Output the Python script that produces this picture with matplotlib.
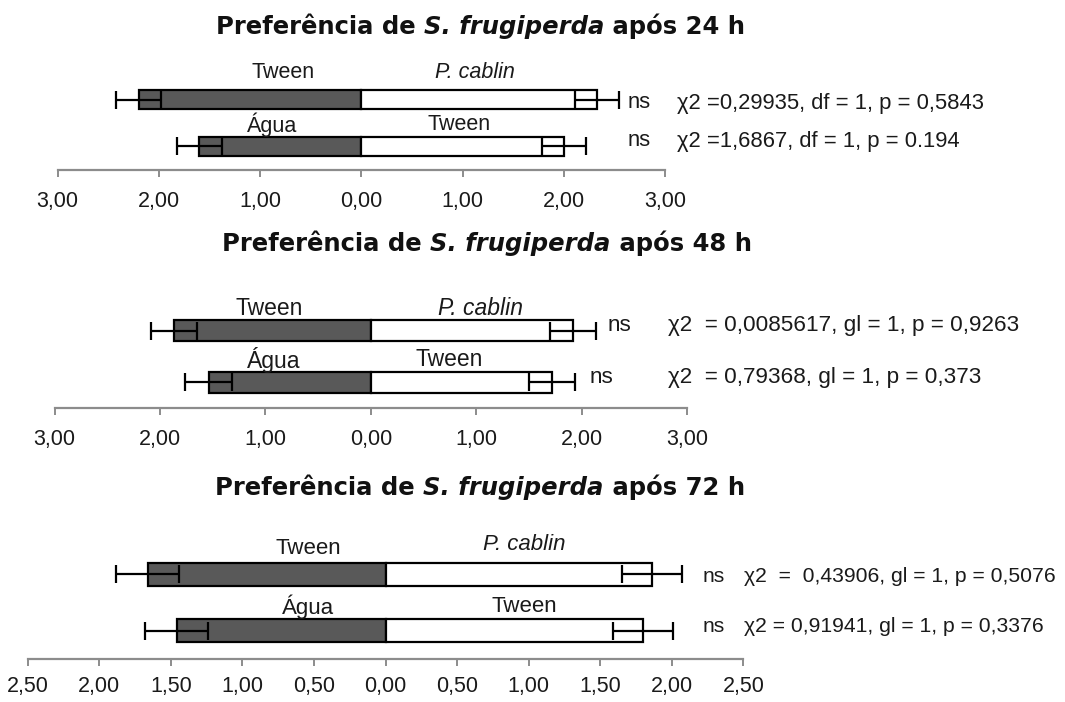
import matplotlib
matplotlib.use("Agg")
import matplotlib.pyplot as plt

# data (mean response, left = dark bar, right = white bar)
left_names = [["Tween", "Água"], ["Tween", "Água"], ["Tween", "Água"]]
right_names = [["P. cablin", "Tween"], ["P. cablin", "Tween"], ["P. cablin", "Tween"]]

left_24 = [2.20, 1.60]
right_24 = [2.33, 2.00]
err_left_24 = [0.22, 0.22]
err_right_24 = [0.22, 0.22]

left_48 = [1.87, 1.54]
right_48 = [1.92, 1.72]
err_left_48 = [0.22, 0.22]
err_right_48 = [0.22, 0.22]

left_72 = [1.66, 1.46]
right_72 = [1.86, 1.80]
err_left_72 = [0.22, 0.22]
err_right_72 = [0.21, 0.21]

hours = ["24", "48", "72"]
chi_24 = ["χ2 =0,29935, df = 1, p = 0,5843", "χ2 =1,6867, df = 1, p = 0.194"]
chi_48 = ["χ2  = 0,0085617, gl = 1, p = 0,9263", "χ2  = 0,79368, gl = 1, p = 0,373"]
chi_72 = ["χ2  =  0,43906, gl = 1, p = 0,5076", "χ2 = 0,91941, gl = 1, p = 0,3376"]
sig = ["ns", "ns"]

ticks_3 = [-3, -2, -1, 0, 1, 2, 3]
ticklabels_3 = ["3,00", "2,00", "1,00", "0,00", "1,00", "2,00", "3,00"]
ticks_25 = [-2.5, -2, -1.5, -1, -0.5, 0, 0.5, 1, 1.5, 2, 2.5]
ticklabels_25 = ["2,50", "2,00", "1,50", "1,00", "0,50", "0,00", "0,50", "1,00", "1,50", "2,00", "2,50"]

W, H = 1065, 702
NARROW = ["Liberation Sans Narrow", "Liberation Sans", "DejaVu Sans"]
DARK = "#595959"
INK = "#1a1a1a"


def fx(px):
    return px / W


def fy(py):
    return 1 - py / H


fig = plt.figure(figsize=(W / 100, H / 100), dpi=100)
renderer = fig.canvas.get_renderer()

panels = [
    dict(left=left_24, right=right_24, el=err_left_24, er=err_right_24, chi=chi_24,
         xlim=(-3, 3), xpx=(57.7, 665), axis=170, cen=(99.5, 146.3), bh=19.5,
         ticks=ticks_3, labels=ticklabels_3, tfs=15.5, pad=10,
         title=(480.5, 34), lab=[(283, 72), (475, 72), (272, 125), (459.5, 125)], lfs=15.5,
         ns=[(628, 103), (628, 141)], chix=676.7, chiy=[103, 141], cfs=15.8),
    dict(left=left_48, right=right_48, el=err_left_48, er=err_right_48, chi=chi_48,
         xlim=(-3, 3), xpx=(54.6, 687.1), axis=408, cen=(330.5, 382), bh=21,
         ticks=ticks_3, labels=ticklabels_3, tfs=15.5, pad=10,
         title=(487, 251), lab=[(268.8, 308), (480.9, 308), (273.3, 360), (449.6, 360)], lfs=16.5,
         ns=[(608, 325), (590, 377)], chix=668, chiy=[325, 377], cfs=16.2),
    dict(left=left_72, right=right_72, el=err_left_72, er=err_right_72, chi=chi_72,
         xlim=(-2.5, 2.5), xpx=(27.7, 743.5), axis=659, cen=(574.2, 630.7), bh=23,
         ticks=ticks_25, labels=ticklabels_25, tfs=15.5, pad=7,
         title=(480, 495), lab=[(308, 548), (524.5, 545), (308, 606.7), (524.5, 606.7)], lfs=16,
         ns=[(703, 577), (703, 627)], chix=744, chiy=[577, 627], cfs=15.2),
]

for i, p in enumerate(panels):
    ppu = p["cen"][1] - p["cen"][0]
    top_px = p["cen"][0] - 0.8 * ppu
    ax = fig.add_axes([fx(p["xpx"][0]), fy(p["axis"]),
                       (p["xpx"][1] - p["xpx"][0]) / W, (p["axis"] - top_px) / H])
    ax.set_xlim(*p["xlim"])
    ax.set_ylim(-(p["axis"] - p["cen"][1]) / ppu, 1.8)
    ax.patch.set_alpha(0)

    ypos = [1, 0]
    h = p["bh"] / ppu
    neg = [-v for v in p["left"]]
    ax.barh(ypos, neg, height=h, color=DARK, edgecolor="black", linewidth=1.6, zorder=2)
    ax.barh(ypos, p["right"], height=h, color="white", edgecolor="black", linewidth=1.6, zorder=2)
    ax.errorbar(neg, ypos, xerr=p["el"], fmt="none", ecolor="black", elinewidth=1.6,
                capsize=6.5, capthick=1.6, zorder=3)
    ax.errorbar(p["right"], ypos, xerr=p["er"], fmt="none", ecolor="black", elinewidth=1.6,
                capsize=6.5, capthick=1.6, zorder=3)

    for s in ["top", "left", "right"]:
        ax.spines[s].set_visible(False)
    ax.spines["bottom"].set_color("#8c8c8c")
    ax.spines["bottom"].set_linewidth(1.6)
    ax.set_yticks([])
    ax.set_xticks(p["ticks"])
    ax.set_xticklabels(p["labels"], family=NARROW, fontsize=p["tfs"], color=INK)
    ax.tick_params(axis="x", direction="out", length=5, width=1.4, color="#8c8c8c", pad=p["pad"])

    # bar names (drawn under the bars, as in the original)
    names = [left_names[i][0], right_names[i][0], left_names[i][1], right_names[i][1]]
    for name, (lx, ly) in zip(names, p["lab"]):
        style = "italic" if name.startswith("P.") else "normal"
        fig.text(fx(lx), fy(ly), name, ha="center", va="center", family=NARROW,
                 fontsize=p["lfs"], style=style, color=INK, zorder=0.5)

    for k in range(2):
        fig.text(fx(p["ns"][k][0]), fy(p["ns"][k][1]), sig[k], ha="left", va="center",
                 family=NARROW, fontsize=p["cfs"], color=INK)
        fig.text(fx(p["chix"]), fy(p["chiy"][k]), p["chi"][k], ha="left", va="center",
                 family=NARROW, fontsize=p["cfs"], color=INK)

    # title with italic species name, centred on the panel
    cx, by = p["title"]
    pieces = [("Preferência de ", "normal"), ("S. frugiperda", "italic"),
              (" após " + hours[i] + " h", "normal")]
    arts = [fig.text(0, fy(by), txt, ha="left", va="baseline", family="DejaVu Sans",
                     weight="bold", style=st, fontsize=17.5, color="#111111")
            for txt, st in pieces]
    widths = [a.get_window_extent(renderer).width for a in arts]
    x = cx - sum(widths) / 2
    for a, w in zip(arts, widths):
        a.set_x(fx(x))
        x += w

fig.savefig("out.png", dpi=100)
